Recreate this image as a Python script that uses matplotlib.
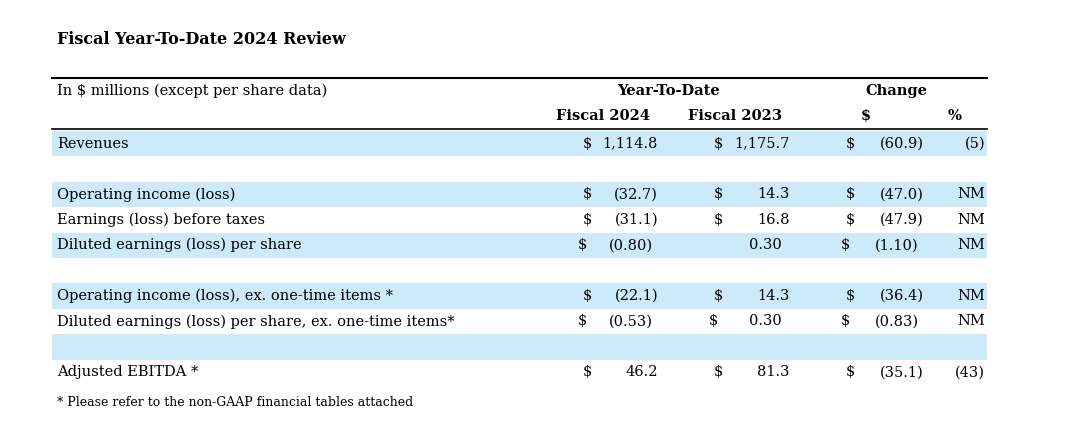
import matplotlib.pyplot as plt
from matplotlib.patches import Rectangle

title = "Fiscal Year-To-Date 2024 Review"
row_labels = ["Revenues", "", "Operating income (loss)", "Earnings (loss) before taxes",
              "Diluted earnings (loss) per share", "",
              "Operating income (loss), ex. one-time items *",
              "Diluted earnings (loss) per share, ex. one-time items*", "", "Adjusted EBITDA *"]
fy2024 = ["1,114.8", "", "(32.7)", "(31.1)", "(0.80)", "", "(22.1)", "(0.53)", "", "46.2"]
fy2023 = ["1,175.7", "", "14.3", "16.8", "0.30", "", "14.3", "0.30", "", "81.3"]
chg_dollar = ["(60.9)", "", "(47.0)", "(47.9)", "(1.10)", "", "(36.4)", "(0.83)", "", "(35.1)"]
chg_pct = ["(5)", "", "NM", "NM", "NM", "", "NM", "NM", "", "(43)"]
show_dollar23 = [True, False, True, True, False, False, True, True, False, True]
shaded = [True, False, True, False, True, False, True, False, True, False]
footnote = "* Please refer to the non-GAAP financial tables attached"

fig = plt.figure(figsize=(10.83, 4.23), dpi=100)
ax = fig.add_axes([0, 0, 1, 1])
ax.set_xlim(0, 1083)
ax.set_ylim(423, 0)
ax.axis("off")
font = "DejaVu Serif"
fs = 10.5
blue = "#cdeafb"

ax.text(57, 40, title, fontsize=11.5, fontweight="bold", family=font, va="center")
ax.plot([52, 987], [78, 78], color="black", lw=1.5)
ax.plot([52, 987], [129, 129], color="black", lw=1.2)
ax.text(57, 91, "In $ millions (except per share data)", fontsize=fs, family=font, va="center")
ax.text(668, 91, "Year-To-Date", fontsize=fs, family=font, fontweight="bold", va="center", ha="center")
ax.text(896, 91, "Change", fontsize=fs, family=font, fontweight="bold", va="center", ha="center")
for x, s in [(603, "Fiscal 2024"), (735, "Fiscal 2023"), (866, "$"), (955, "%")]:
    ax.text(x, 116, s, fontsize=fs, family=font, fontweight="bold", va="center", ha="center")

top = 131
h = 25.4
for i, lab in enumerate(row_labels):
    y0 = top + i * h
    yc = y0 + h / 2
    if shaded[i]:
        ax.add_patch(Rectangle((52, y0), 935, h, color=blue, lw=0))
    if not lab:
        continue
    off = -5 if "per share" in lab else 0
    ax.text(57, yc, lab, fontsize=fs, family=font, va="center")
    ax.text(587 + off, yc, "$", fontsize=fs, family=font, va="center", ha="center")
    ax.text(658 + off, yc, fy2024[i], fontsize=fs, family=font, va="center", ha="right")
    if show_dollar23[i]:
        ax.text(718 + off, yc, "$", fontsize=fs, family=font, va="center", ha="center")
    ax.text(787 + off if off else 790, yc, fy2023[i], fontsize=fs, family=font, va="center", ha="right")
    ax.text(850 + off, yc, "$", fontsize=fs, family=font, va="center", ha="center")
    ax.text(924 + off, yc, chg_dollar[i], fontsize=fs, family=font, va="center", ha="right")
    ax.text(985, yc, chg_pct[i], fontsize=fs, family=font, va="center", ha="right")

ax.text(57, 403, footnote, fontsize=9, family=font, va="center")
fig.savefig("out.png", dpi=100)
